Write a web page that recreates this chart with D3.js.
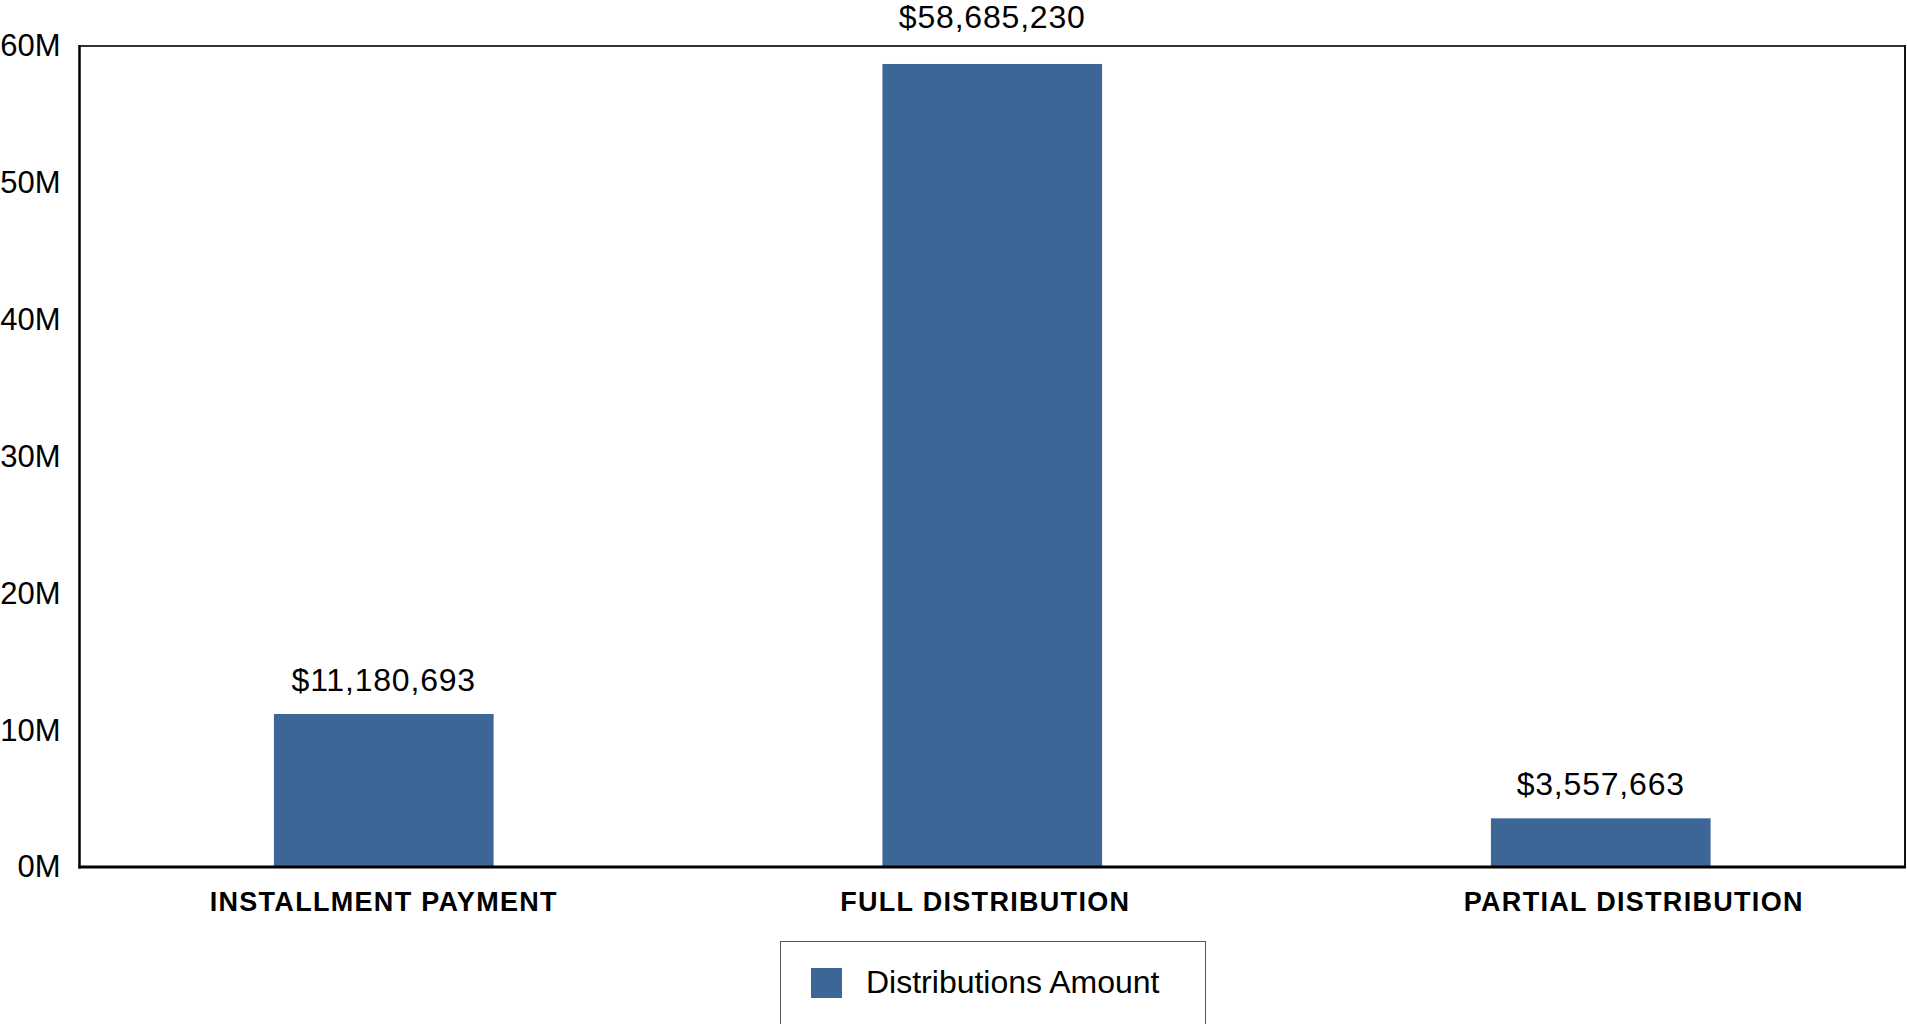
<!DOCTYPE html>
<html><head><meta charset="utf-8">
<script src="https://cdn.jsdelivr.net/npm/d3@7"></script>
<style>
body{margin:0;background:#fff;overflow:hidden}
text{font-family:"Liberation Sans",Arial,Helvetica,sans-serif;fill:#000}
</style>
</head><body><svg id="chart" width="1907" height="1024"></svg>
<script>
const categories = ["INSTALLMENT PAYMENT", "FULL DISTRIBUTION", "PARTIAL DISTRIBUTION"];
const amounts = [11180693, 58685230, 3557663];
const seriesName = "Distributions Amount";
const yTicks = [0, 10e6, 20e6, 30e6, 40e6, 50e6, 60e6];
const yTickLabels = ["0M", "10M", "20M", "30M", "40M", "50M", "60M"];

(function () {
const mLeft = 79.5, mRight = 1905, mTop = 46, mBottom = 867;
const barColor = "#3b6695";

const svg = d3.select("#chart");

const x = d3.scaleBand().domain(categories).range([mLeft, mRight])
  .paddingInner(0.639).paddingOuter(0.3195);
const y = d3.scaleLinear().domain([0, 60e6]).range([mBottom, mTop]);

// bars
svg.append("g").selectAll("rect").data(amounts).join("rect")
  .attr("x", (d, i) => x(categories[i]))
  .attr("width", x.bandwidth())
  .attr("y", d => y(d))
  .attr("height", d => y(0) - y(d))
  .attr("fill", barColor);

// frame: top and right borders
svg.append("line").attr("x1", mLeft).attr("x2", mRight).attr("y1", mTop).attr("y2", mTop)
  .attr("stroke", "#333").attr("stroke-width", 2);
svg.append("line").attr("x1", mRight).attr("x2", mRight).attr("y1", mTop - 1).attr("y2", mBottom)
  .attr("stroke", "#111").attr("stroke-width", 2);

// y axis
const yAxis = d3.axisLeft(y).tickValues(yTicks)
  .tickFormat((d, i) => yTickLabels[i]).tickSize(0).tickPadding(19);
const gy = svg.append("g").attr("transform", `translate(${mLeft},0)`).call(yAxis);
gy.select(".domain").remove();
gy.selectAll("text").attr("font-size", 31).attr("font-family", null).style("fill", "#000");
svg.append("line").attr("x1", mLeft).attr("x2", mLeft).attr("y1", mTop - 1).attr("y2", mBottom + 1.5)
  .attr("stroke", "#000").attr("stroke-width", 2.5);

// x axis (label placement in the original is slightly off-centre for some categories)
const labelNudge = {"FULL DISTRIBUTION": -7, "PARTIAL DISTRIBUTION": 33};
const xAxis = d3.axisBottom(x).tickSize(0).tickPadding(25);
const gx = svg.append("g").attr("transform", `translate(0,${mBottom})`).call(xAxis);
gx.select(".domain").remove();
gx.selectAll("text").attr("font-size", 27).attr("font-weight", "bold")
  .attr("font-family", null).style("letter-spacing", "1.3px").style("fill", "#000")
  .attr("dx", d => labelNudge[d] || 0);
svg.append("line").attr("x1", mLeft - 1).attr("x2", mRight + 1).attr("y1", mBottom).attr("y2", mBottom)
  .attr("stroke", "#000").attr("stroke-width", 3);

// value labels
const fmt = d3.format("$,.0f");
const gap = 23, capH = 23;
svg.append("g").selectAll("text").data(amounts).join("text")
  .attr("x", (d, i) => x(categories[i]) + x.bandwidth() / 2)
  .attr("y", d => {
    const b = y(d) - gap;
    return (b - capH < mTop + 2) ? mTop - 18 : b;
  })
  .attr("text-anchor", "middle")
  .attr("font-size", 32)
  .style("letter-spacing", "0.8px")
  .text(d => fmt(d));

// legend
const lg = svg.append("g");
lg.append("rect").attr("x", 780.5).attr("y", 941.5).attr("width", 425).attr("height", 100)
  .attr("fill", "#fff").attr("stroke", "#555").attr("stroke-width", 1);
lg.append("rect").attr("x", 811).attr("y", 968).attr("width", 31).attr("height", 30)
  .attr("fill", barColor);
lg.append("text").attr("x", 866).attr("y", 993).attr("font-size", 32).text(seriesName);
})();
</script>
</body></html>
